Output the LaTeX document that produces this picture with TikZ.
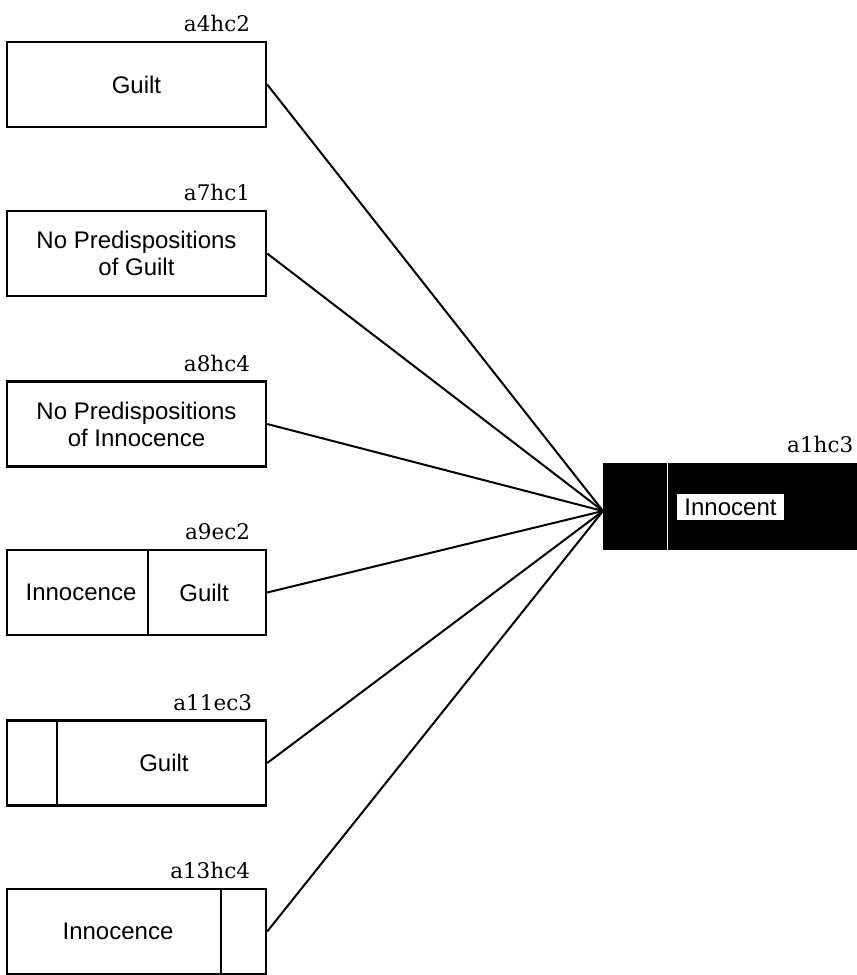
\documentclass[tikz,border=0pt]{standalone}
\usepackage{fontspec}
\setmainfont{Liberation Sans}
\newfontfamily\labfont{DejaVu Serif}
\begin{document}
\begin{tikzpicture}[x=1pt,y=-1pt,
  box/.style={draw, line width=2.4pt, minimum width=259pt, minimum height=85pt, inner sep=0pt, align=center, font=\fontsize{24}{27}\selectfont},
  txt/.style={inner sep=0pt, align=center, font=\fontsize{24}{27}\selectfont},
  lab/.style={anchor=base east, inner sep=0pt, font=\labfont\fontsize{21.5}{24}\selectfont},
  conn/.style={line width=2pt},
  divider/.style={line width=2.2pt}
]
\useasboundingbox (0,0) rectangle (857,975);

% left boxes
\node[box] (b1) at (136.5,84.5) {Guilt};
\node[box] (b2) at (136.5,253.5) {No Predispositions\\of Guilt};
\node[box] (b3) at (136.5,424) {No Predispositions\\of Innocence};
\node[box] (b4) at (136.5,592.5) {};
\node[box] (b5) at (136.5,763) {};
\node[box] (b6) at (136.5,931.5) {};

% dividers and split texts
\draw[divider] ([xshift=142pt]b4.north west) -- ([xshift=142pt]b4.south west);
\node[txt] (b4l) at (81,592.5) {Innocence};
\node[txt] (b4r) at (204,592.5) {Guilt};

\draw[divider] ([xshift=51pt]b5.north west) -- ([xshift=51pt]b5.south west);
\node[txt] (b5r) at (164,763) {Guilt};

\draw[divider] ([xshift=215pt]b6.north west) -- ([xshift=215pt]b6.south west);
\node[txt] (b6l) at (118,931.5) {Innocence};

% labels
\node[lab] (l1) at ([xshift=-17pt,yshift=9pt]b1.north east) {a4hc2};
\node[lab] (l2) at ([xshift=-17pt,yshift=9pt]b2.north east) {a7hc1};
\node[lab] (l3) at ([xshift=-17pt,yshift=9pt]b3.north east) {a8hc4};
\node[lab] (l4) at ([xshift=-17pt,yshift=9pt]b4.north east) {a9ec2};
\node[lab] (l5) at ([xshift=-15pt,yshift=9pt]b5.north east) {a11ec3};
\node[lab] (l6) at ([xshift=-17pt,yshift=9pt]b6.north east) {a13hc4};

% black target box
\node[draw=black, fill=black, line width=1pt, minimum width=254pt, minimum height=86pt, inner sep=0pt] (blk) at (730,506) {};
\draw[white, line width=1.5pt] ([xshift=65pt]blk.north west) -- ([xshift=65pt]blk.south west);
\node[fill=white, inner sep=0pt, minimum width=107pt, minimum height=26pt, font=\fontsize{24}{27}\selectfont] (inn) at (730.5,507) {Innocent};
\node[lab] (l0) at ([xshift=-4pt,yshift=10pt]blk.north east) {a1hc3};

% connectors
\coordinate (conv) at (603,511);
\foreach \b in {b1,b2,b3,b4,b5,b6}
  \draw[conn] (\b.east) -- (conv);
\end{tikzpicture}
\end{document}
